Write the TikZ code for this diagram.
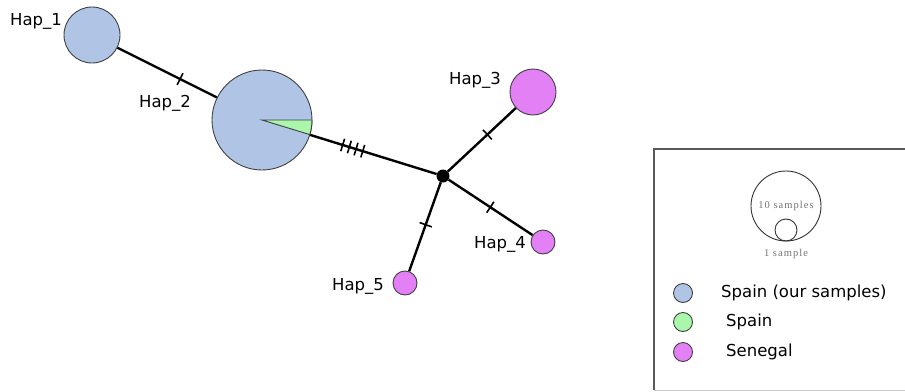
\documentclass[tikz,border=0pt]{standalone}
\usepackage{fontspec}
\setmainfont{DejaVu Sans}
\newfontfamily\keyfont[LetterSpace=10]{Liberation Serif}
\usetikzlibrary{positioning,decorations.markings}

\definecolor{ourspain}{RGB}{176,196,230}
\definecolor{spain}{RGB}{170,246,170}
\definecolor{senegal}{RGB}{228,128,246}

\tikzset{
  hap/.style={circle,draw=black!75,line width=0.9pt,inner sep=0pt,minimum size=#1},
  hap/.default=24,
  lbl/.style={font=\fontsize{16.5}{19}\selectfont,inner sep=0pt},
  link/.style={line width=2.4pt},
  mut/.style={postaction={decorate,decoration={markings,
      mark=at position #1 with {\draw[line width=1.6pt] (0,-6.5) -- (0,6.5);}}}}
}

\begin{document}
\begin{tikzpicture}[x=1pt,y=-1pt]
  \useasboundingbox (0,0) rectangle (905,391);

  % haplotypes
  \node[hap=56,fill=ourspain] (h1) at (92,35) {};
  \node[hap=100,fill=ourspain] (h2) at (262,120) {};
  \fill[spain,draw=black!75,line width=0.9pt] (h2.center) -- ++(50,0) arc (0:17:50) -- cycle;
  \node[hap=46,fill=senegal] (h3) at (533,92) {};
  \node[hap=24,fill=senegal] (h4) at (543,242) {};
  \node[hap=24,fill=senegal] (h5) at (405,283) {};
  \node[circle,fill=black,inner sep=0pt,minimum size=13] (mv) at (443,176) {};

  % edges with mutation ticks
  \draw[link,mut=70pt] (h1) -- (h2);
  \draw[link,mut=34pt,mut=41pt,mut=48pt,mut=55pt] (h2) -- (mv);
  \draw[link,mut=54pt] (mv) -- (h3);
  \draw[link,mut=50pt] (mv) -- (h4);
  \draw[link,mut=45pt] (mv) -- (h5);

  % labels
  \node[lbl] (l1) at (36,21) {Hap\_1};
  \node[lbl] (l2) at (165,103) {Hap\_2};
  \node[lbl] (l3) at (475,80) {Hap\_3};
  \node[lbl] (l4) at (500,244) {Hap\_4};
  \node[lbl] (l5) at (358,286) {Hap\_5};

  % legend
  \node[minimum width=252,minimum height=241,inner sep=0pt] (key) at (780,269.5) {};
  \draw[black!65,line width=1.6pt] (key.north east) -- (key.north west) -- (key.south west);
  \draw[black!20,line width=1pt] (key.south west) -- (key.south east);
  \node[circle,draw=black!80,line width=0.9pt,inner sep=0pt,minimum size=70] (big) at (786,206) {};
  \node[circle,draw=black!80,line width=0.9pt,inner sep=0pt,minimum size=22] (small) at (786,230) {};
  \node[font=\keyfont\fontsize{10.5}{11}\selectfont,text=black!55,inner sep=0pt] (t10) at (786,206) {10 samples};
  \node[font=\keyfont\fontsize{10.5}{11}\selectfont,text=black!55,inner sep=0pt] (t1) at (786,254) {1 sample};
  \node[hap=19,fill=ourspain] (k1) at (683,293) {};
  \node[hap=19,fill=spain] (k2) at (683,322) {};
  \node[hap=19,fill=senegal] (k3) at (683,352) {};
  \node[lbl,anchor=west] (kt1) at (721,293) {Spain (our samples)};
  \node[lbl,anchor=west] (kt2) at (726,322) {Spain};
  \node[lbl,anchor=west] (kt3) at (726,352) {Senegal};
\end{tikzpicture}
\end{document}
